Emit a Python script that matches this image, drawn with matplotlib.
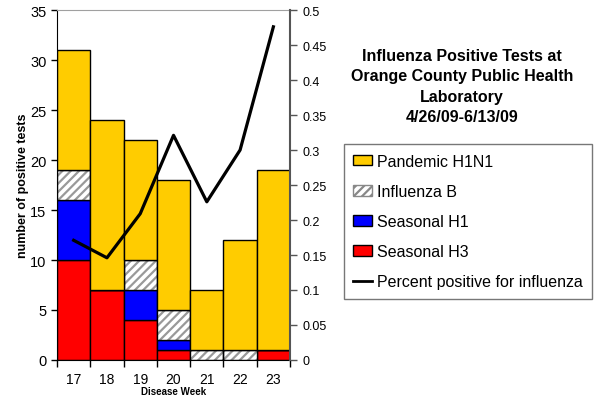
import numpy as np
import matplotlib.pyplot as plt
from matplotlib.patches import Patch
from matplotlib.lines import Line2D

plt.rcParams['font.family'] = ['Liberation Sans', 'DejaVu Sans']
plt.rcParams['hatch.linewidth'] = 1.6

weeks = [17, 18, 19, 20, 21, 22, 23]
seasonal_h3 = [10, 7, 4, 1, 0, 0, 1]
seasonal_h1 = [6, 0, 3, 1, 0, 0, 0]
influenza_b = [3, 0, 3, 3, 1, 1, 0]
pandemic_h1n1 = [12, 17, 12, 13, 6, 11, 18]
pct_positive = [0.171, 0.146, 0.209, 0.321, 0.226, 0.300, 0.476]

yellow = '#FFCC00'
blue = '#0000FF'
red = '#FF0000'

fig = plt.figure(figsize=(5.97, 4.02), dpi=100)
ax = fig.add_axes([0.0955, 0.102, 0.3903, 0.8706])

x = np.array(weeks)
h3 = np.array(seasonal_h3)
h1 = np.array(seasonal_h1)
b = np.array(influenza_b)
p = np.array(pandemic_h1n1)

ax.bar(x, h3, width=1, color=red, edgecolor='black', linewidth=1)
ax.bar(x, h1, width=1, bottom=h3, color=blue, edgecolor='black', linewidth=1)
ax.bar(x, b, width=1, bottom=h3 + h1, color='white', edgecolor='#999999',
       hatch='////', linewidth=0)
ax.bar(x, b, width=1, bottom=h3 + h1, fill=False, edgecolor='black', linewidth=1)
ax.bar(x, p, width=1, bottom=h3 + h1 + b, color=yellow, edgecolor='black', linewidth=1)

ax.set_xlim(16.5, 23.5)
ax.set_ylim(0, 35)
ax.set_yticks(range(0, 36, 5))
ax.set_xticks(np.arange(16.5, 24, 1))
ax.set_xticklabels([])
ax.set_xticks(weeks, minor=True)
ax.set_xticklabels([str(w) for w in weeks], minor=True)
ax.tick_params(axis='x', which='minor', length=0, pad=9, labelsize=10)
ax.tick_params(axis='x', which='major', length=5, width=1)
ax.tick_params(axis='y', labelsize=10.5, length=4, width=1)
ax.spines['top'].set_color('#a0a0a0')
ax.spines['right'].set_visible(False)
ax.set_ylabel('number of positive tests', fontsize=9, fontweight='bold', labelpad=1)
ax.set_xlabel('Disease Week', fontsize=7, fontweight='bold', labelpad=0)

ax2 = ax.twinx()
ax2.plot(x, pct_positive, color='black', linewidth=2.3)
ax2.set_ylim(0, 0.5)
ax2.set_yticks(np.arange(0, 0.501, 0.05))
ax2.set_yticklabels(['0', '0.05', '0.1', '0.15', '0.2', '0.25', '0.3', '0.35',
                     '0.4', '0.45', '0.5'])
ax2.tick_params(axis='y', labelsize=9, length=5, width=1, color='#555555', pad=4)
ax2.spines['right'].set_color('#555555')
ax2.spines['right'].set_linewidth(1.5)
ax2.spines['top'].set_visible(False)
ax2.spines['left'].set_visible(False)
ax2.spines['bottom'].set_visible(False)

fig.text(0.774, 0.784, 'Influenza Positive Tests at\nOrange County Public Health\nLaboratory\n4/26/09-6/13/09',
         ha='center', va='center', fontsize=11.5, fontweight='bold', linespacing=1.45)

handles = [
    Patch(facecolor=yellow, edgecolor='black'),
    Patch(facecolor='white', edgecolor='#888888', hatch='////'),
    Patch(facecolor=blue, edgecolor='black'),
    Patch(facecolor=red, edgecolor='black'),
    Line2D([0], [0], color='black', linewidth=2),
]
labels = ['Pandemic H1N1', 'Influenza B', 'Seasonal H1', 'Seasonal H3',
          'Percent positive for influenza']
leg = fig.legend(handles, labels, loc='upper left', bbox_to_anchor=(0.576, 0.639),
                 fontsize=11.5, frameon=True, fancybox=False, edgecolor='#555555',
                 handlelength=1.15, handleheight=0.65, handletextpad=0.3,
                 labelspacing=0.95, borderpad=0.6, borderaxespad=0)
leg.get_frame().set_linewidth(1)

fig.savefig('out.png', dpi=100)
